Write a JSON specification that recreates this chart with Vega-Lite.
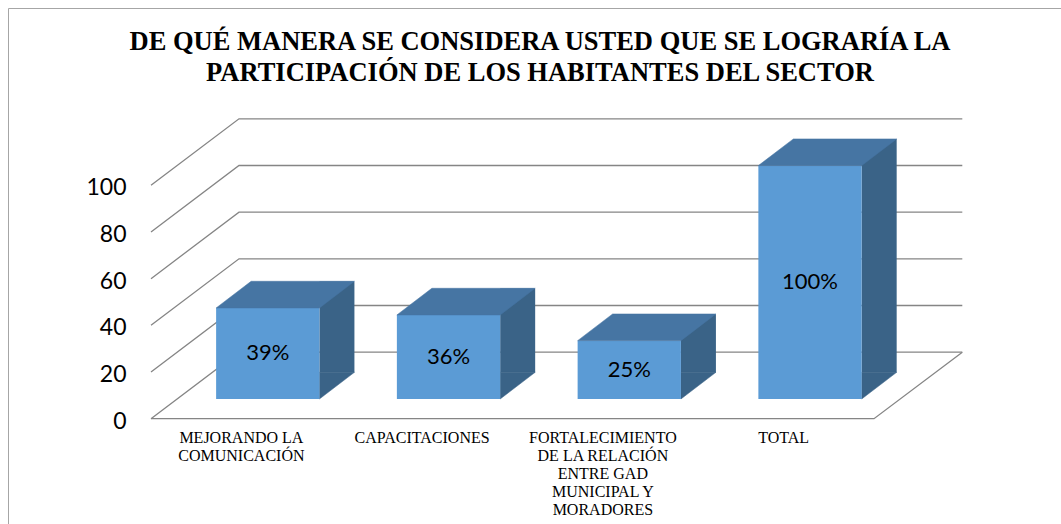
{
  "$schema": "https://vega.github.io/schema/vega-lite/v6.json",
  "width": 1060,
  "height": 520,
  "autosize": {"type": "none"},
  "padding": {"left": 8, "top": 8, "right": -7, "bottom": -4},
  "background": "white",
  "config": {
    "view": {"stroke": "#a6a6a6", "strokeWidth": 1},
    "axis": {"grid": false, "domain": false, "ticks": false, "tickSize": 0}
  },
  "title": {
    "text": ["DE QUÉ MANERA SE CONSIDERA USTED QUE SE LOGRARÍA LA", "PARTICIPACIÓN DE LOS HABITANTES DEL SECTOR"],
    "font": "Liberation Serif",
    "fontSize": 26.5,
    "fontWeight": "bold",
    "color": "#000000",
    "lineHeight": 31,
    "anchor": "middle",
    "frame": "group",
    "baseline": "alphabetic",
    "offset": -99,
    "dx": 2
  },
  "data": {
    "values": [
      {"categoria": "MEJORANDO LA COMUNICACIÓN", "valor": 39, "etiqueta": "39%"},
      {"categoria": "CAPACITACIONES", "valor": 36, "etiqueta": "36%"},
      {"categoria": "FORTALECIMIENTO DE LA RELACIÓN ENTRE GAD MUNICIPAL Y MORADORES", "valor": 25, "etiqueta": "25%"},
      {"categoria": "TOTAL", "valor": 100, "etiqueta": "100%"}
    ]
  },
  "resolve": {"scale": {"y": "independent"}},
  "layer": [
    {
      "layer": [
        {
          "data": {"values": [{"v": 0}, {"v": 20}, {"v": 40}, {"v": 60}, {"v": 80}, {"v": 100}]},
          "mark": {"type": "point", "shape": "M -90.375 0 L -2.375 -66.5 L 720.925 -66.5", "size": 4, "filled": false, "stroke": "#858585", "strokeWidth": 1.3, "opacity": 1},
          "encoding": {
            "x": {"datum": "MEJORANDO LA COMUNICACIÓN", "type": "nominal"},
            "y": {"field": "v", "type": "quantitative"}
          }
        },
        {
          "data": {"values": [{"v": 0}]},
          "mark": {"type": "point", "shape": "M -90.375 0 L 632.625 0 L 720.925 -66.5", "size": 4, "filled": false, "stroke": "#858585", "strokeWidth": 1.3, "opacity": 1},
          "encoding": {
            "x": {"datum": "MEJORANDO LA COMUNICACIÓN", "type": "nominal"},
            "y": {"field": "v", "type": "quantitative"}
          }
        },
        {
          "mark": {"type": "bar", "width": 35, "xOffset": 95.55, "yOffset": -46.2, "y2Offset": -46.2, "color": "#3A6387"},
          "encoding": {
            "x": {"field": "categoria", "type": "nominal"},
            "y": {"field": "valor", "type": "quantitative"}
          }
        },
        {
          "mark": {"type": "point", "shape": "M 78.05 -46.4 L 78.05 -19.7 L 113.05 -46.4 Z", "size": 4, "filled": true, "color": "#3A6387", "stroke": "#3A6387", "strokeWidth": 0.5, "opacity": 1},
          "encoding": {
            "x": {"field": "categoria", "type": "nominal"},
            "y": {"datum": 0, "type": "quantitative"}
          }
        },
        {
          "mark": {"type": "bar", "width": 103.3, "xOffset": 26.4, "yOffset": -19.7, "y2Offset": -19.7, "color": "#5B9BD5"},
          "encoding": {
            "x": {
              "field": "categoria",
              "type": "nominal",
              "scale": {
                "type": "band",
                "domain": ["MEJORANDO LA COMUNICACIÓN", "CAPACITACIONES", "FORTALECIMIENTO DE LA RELACIÓN ENTRE GAD MUNICIPAL Y MORADORES", "TOTAL"],
                "range": [143, 866],
                "paddingInner": 0,
                "paddingOuter": 0
              },
              "axis": {
                "orient": "bottom",
                "offset": -109.3,
                "title": null,
                "labelAngle": 0,
                "labelAlign": "center",
                "labelFont": "Liberation Serif",
                "labelFontSize": 16,
                "labelColor": "#000000",
                "labelBaseline": "top",
                "labelPadding": 11,
                "labelLineHeight": 18,
                "labelLimit": 0,
                "labelOverlap": false,
                "labelBound": false,
                "labelFlush": false,
                "labelExpr": "datum.value == 'MEJORANDO LA COMUNICACIÓN' ? ['MEJORANDO LA', 'COMUNICACIÓN'] : datum.value == 'TOTAL' ? 'TOTAL' : datum.value == 'CAPACITACIONES' ? 'CAPACITACIONES' : ['FORTALECIMIENTO', 'DE LA RELACIÓN', 'ENTRE GAD', 'MUNICIPAL Y', 'MORADORES']"
              }
            },
            "y": {
              "field": "valor",
              "type": "quantitative",
              "scale": {"domain": [0, 100], "range": [410.7, 177.3], "nice": false},
              "axis": {
                "orient": "left",
                "offset": -118,
                "title": null,
                "values": [0, 20, 40, 60, 80, 100],
                "labelFont": "Lato",
                "labelFontSize": 23,
                "labelColor": "#000000",
                "labelPadding": 0,
                "labelOffset": 2.5
              }
            }
          }
        },
        {
          "mark": {"type": "point", "shape": "M -25.25 -19.7 L 78.05 -19.7 L 113.05 -46.4 L 9.75 -46.4 Z", "size": 4, "filled": true, "color": "#4675A3", "stroke": "#4675A3", "strokeWidth": 0.5, "opacity": 1},
          "encoding": {
            "x": {"field": "categoria", "type": "nominal"},
            "y": {"field": "valor", "type": "quantitative"}
          }
        }
      ]
    },
    {
      "mark": {"type": "text", "xOffset": 26.4, "yOffset": -19.7, "font": "Lato", "fontSize": 22, "color": "#000000", "baseline": "middle", "align": "center"},
      "encoding": {
        "x": {"field": "categoria", "type": "nominal"},
        "y": {"field": "valor", "type": "quantitative", "scale": {"domain": [0, 200], "range": [410.7, 177.3], "nice": false}, "axis": null},
        "text": {"field": "etiqueta"}
      }
    }
  ]
}
